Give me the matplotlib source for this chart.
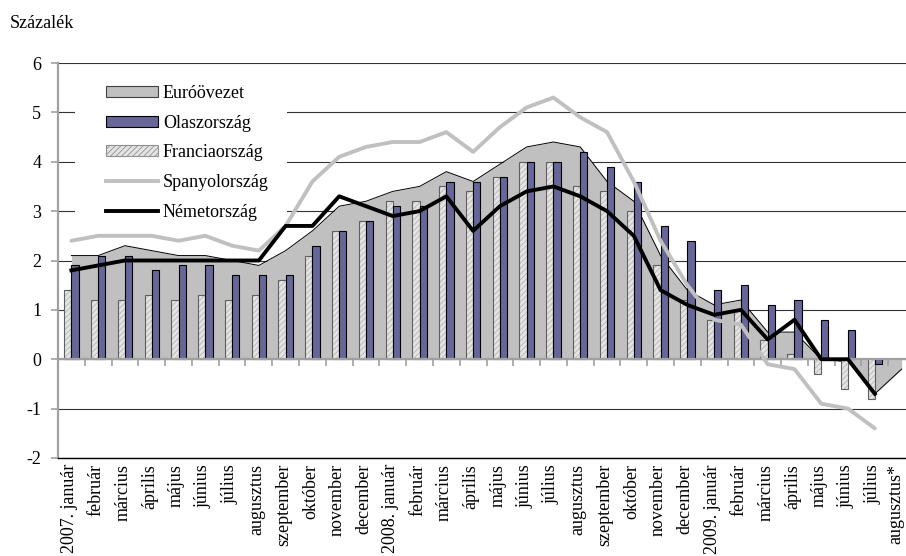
import numpy as np
import matplotlib
matplotlib.use("Agg")
import matplotlib.pyplot as plt
import matplotlib.transforms as mtransforms
from matplotlib.patches import Patch, Rectangle
from matplotlib.lines import Line2D

plt.rcParams['font.family'] = ['Liberation Serif', 'DejaVu Serif']
plt.rcParams['hatch.linewidth'] = 0.6
plt.rcParams['axes.unicode_minus'] = False

# --------------------------------------------------
# data (annual HICP change, %)
# --------------------------------------------------
months = ["2007. január", "február", "március", "április", "május", "június",
          "július", "augusztus", "szeptember", "október", "november", "december",
          "2008. január", "február", "március", "április", "május", "június",
          "július", "augusztus", "szeptember", "október", "november", "december",
          "2009. január", "február", "március", "április", "május", "június",
          "július", "augusztus*"]

euro_area = [2.1, 2.1, 2.3, 2.2, 2.1, 2.1, 2.0, 1.9, 2.2, 2.6, 3.1, 3.2,
             3.4, 3.5, 3.8, 3.6, 3.95, 4.3, 4.4, 4.3, 3.6, 3.2, 2.1, 1.4,
             1.1, 1.2, 0.55, 0.55, 0.0, -0.05, -0.7, -0.2]

italy = [1.9, 2.1, 2.1, 1.8, 1.9, 1.9, 1.7, 1.7, 1.7, 2.3, 2.6, 2.8,
         3.1, 3.1, 3.6, 3.6, 3.7, 4.0, 4.0, 4.2, 3.9, 3.6, 2.7, 2.4,
         1.4, 1.5, 1.1, 1.2, 0.8, 0.6, -0.1, np.nan]

france = [1.4, 1.2, 1.2, 1.3, 1.2, 1.3, 1.2, 1.3, 1.6, 2.1, 2.6, 2.8,
          3.2, 3.2, 3.5, 3.4, 3.7, 4.0, 4.0, 3.5, 3.4, 3.0, 1.9, 1.2,
          0.8, 1.0, 0.4, 0.1, -0.3, -0.6, -0.8, np.nan]

spain = [2.4, 2.5, 2.5, 2.5, 2.4, 2.5, 2.3, 2.2, 2.7, 3.6, 4.1, 4.3,
         4.4, 4.4, 4.6, 4.2, 4.7, 5.1, 5.3, 4.9, 4.6, 3.6, 2.4, 1.5,
         0.8, 0.7, -0.1, -0.2, -0.9, -1.0, -1.4, np.nan]

germany = [1.8, 1.9, 2.0, 2.0, 2.0, 2.0, 2.0, 2.0, 2.7, 2.7, 3.3, 3.1,
           2.9, 3.0, 3.3, 2.6, 3.1, 3.4, 3.5, 3.3, 3.0, 2.5, 1.4, 1.1,
           0.9, 1.0, 0.4, 0.8, 0.0, 0.0, -0.7, np.nan]

# --------------------------------------------------
# figure
# --------------------------------------------------
W, H = 906, 556
fig = plt.figure(figsize=(W / 100, H / 100), dpi=100)
# plot area runs a little past the right edge of the picture, as in the original
ax = fig.add_axes([58 / W, (H - 458) / H, (915 - 58) / W, (458 - 63) / H])

x = np.arange(len(months))
w = 0.27
fsize = 13

# euro area as shaded area
ax.fill_between(x, euro_area, 0, color='#c0c0c0', lw=0, zorder=1)
ax.plot(x, euro_area, color='black', lw=0.7, zorder=1.2)

# France: hatched light bars, Italy: blue bars
ax.bar(x - w / 2, france, width=w, color='#e4e4e4', edgecolor='#b4b4b4',
       hatch='//////', lw=0, zorder=2)
ax.bar(x - w / 2, france, width=w, fill=False, edgecolor='#606060', lw=0.8, zorder=2.1)
ax.bar(x + w / 2, italy, width=w, color='#666699', edgecolor='black', lw=0.8, zorder=2.2)

# zero axis with category ticks
ax.axhline(0, color='#a0a0a0', lw=1.6, zorder=2.5)
ax.vlines(np.arange(0.5, len(months) - 0.5, 1), -0.14, 0, color='#a0a0a0',
          lw=1.2, zorder=2.5)

# lines
ax.plot(x, spain, color='#c0c0c0', lw=2.8, solid_joinstyle='round',
        solid_capstyle='round', zorder=3)
ax.plot(x, germany, color='black', lw=2.8, solid_joinstyle='round', zorder=4)

# axes
ax.set_xlim(-0.5, len(months) - 0.5)
ax.set_ylim(-2, 6)
ax.set_yticks(range(-2, 7))
ax.grid(axis='y', color='#333333', lw=0.8)
ax.set_axisbelow(True)

ax.set_xticks([])
ax.tick_params(axis='y', length=5, width=1.2, color='#a0a0a0', pad=7, labelsize=fsize)

for s in ['top', 'right']:
    ax.spines[s].set_visible(False)
ax.spines['left'].set_color('#a0a0a0')
ax.spines['left'].set_linewidth(1.6)
ax.spines['bottom'].set_color('black')
ax.spines['bottom'].set_linewidth(1.0)

# category labels below the plot
lab_tr = ax.get_xaxis_transform() + mtransforms.ScaledTranslation(-2 / 100, -6 / 100,
                                                                   fig.dpi_scale_trans)
last_tr = ax.get_xaxis_transform() + mtransforms.ScaledTranslation(-6 / 100, -6 / 100,
                                                                    fig.dpi_scale_trans)
for i, m in enumerate(months):
    ax.text(x[i], 0, m, rotation=90, ha='center', va='top', fontsize=fsize,
            transform=last_tr if i == len(months) - 1 else lab_tr, clip_on=False)

fig.text(10 / W, 1 - 24 / H, "Százalék", fontsize=fsize, va='center', ha='left')

# white box behind the legend hides the gridlines
ax.add_patch(Rectangle((75 / W, 1 - 226 / H), 212 / W, 156 / H, transform=fig.transFigure,
                       facecolor='white', edgecolor='none', zorder=0.8))

handles = [
    Patch(facecolor='#c0c0c0', edgecolor='#404040', lw=0.8, label='Euróövezet'),
    Patch(facecolor='#666699', edgecolor='black', lw=0.8, label='Olaszország'),
    Patch(facecolor='#e4e4e4', edgecolor='#909090', hatch='//////', lw=0.8, label='Franciaország'),
    Line2D([], [], color='#c0c0c0', lw=2.8, label='Spanyolország'),
    Line2D([], [], color='black', lw=2.8, label='Németország'),
]
leg = ax.legend(handles=handles, loc='upper left',
                bbox_to_anchor=(97 / W, 1 - 76 / H), bbox_transform=fig.transFigure,
                frameon=False, fontsize=fsize, handlelength=2.9, handleheight=0.55,
                handletextpad=0.25, labelspacing=0.70, borderpad=0.0)
leg.set_zorder(5)

fig.savefig("out.png", dpi=100)
